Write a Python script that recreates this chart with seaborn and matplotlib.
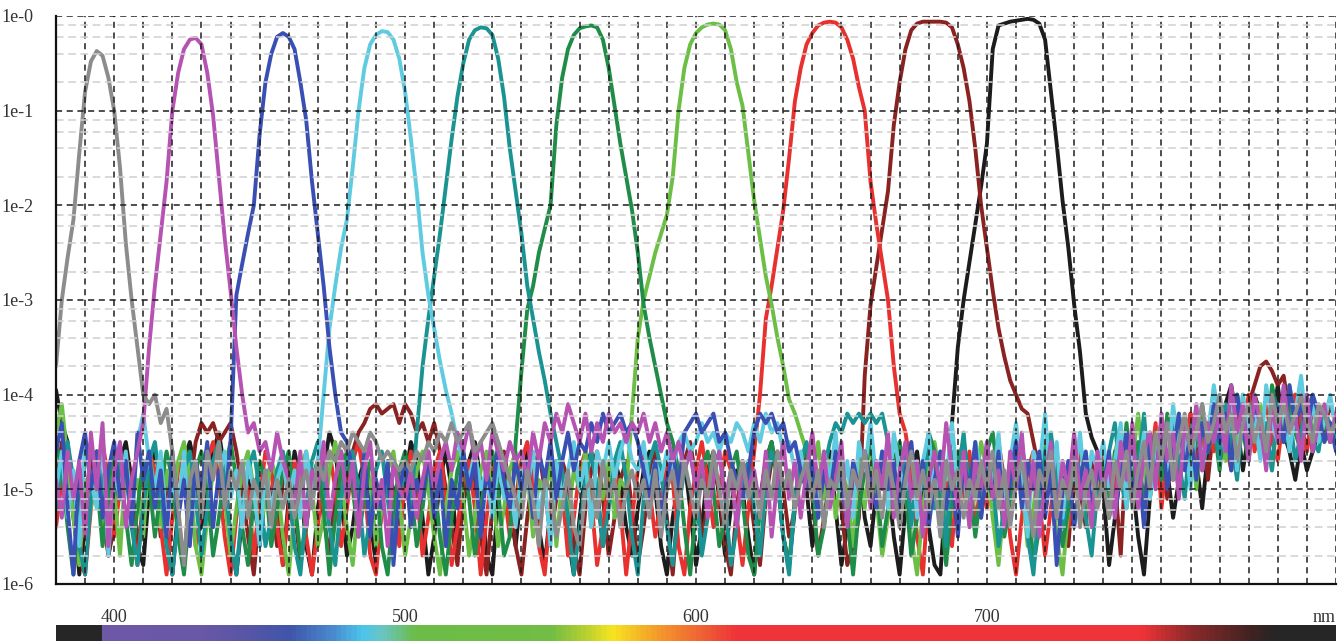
import numpy as np
import pandas as pd
import matplotlib.pyplot as plt
from matplotlib.colors import LinearSegmentedColormap
from matplotlib.ticker import NullLocator
import seaborn as sns

# longitudes de onda (nm), paso de 2 nm
longitud_onda = np.arange(380, 821, 2)

# transmision de cada filtro en log10 (380..820 nm)
gris = [
    -3.7, -3.0, -2.55, -2.15, -1.45, -0.8, -0.48, -0.37, -0.42, -0.65, -1.0, -1.6, -2.4, -3.0, -3.5, -4.0, -4.1, -4.0, -4.3, -4.15,
    -4.6, -5.2, -5.8, -4.9, -4.7, -5.3, -4.6, -4.9, -4.5, -5.2, -4.8, -5.0, -4.7, -5.3, -4.9, -5.1, -4.8, -5.4, -4.9, -5.2,
    -4.9, -5.3, -5.0, -4.8, -5.2, -4.7, -4.9, -4.6, -4.7, -4.5, -4.6, -4.4, -4.5, -4.6, -4.4, -4.5, -4.7, -4.6, -4.7, -4.8,
    -4.7, -4.8, -4.6, -4.7, -4.5, -4.6, -4.4, -4.5, -4.3, -4.5, -4.4, -4.3, -4.6, -4.5, -4.4, -4.3, -4.5, -4.7, -4.9, -5.1,
    -5.3, -4.8, -5.1, -5.6, -4.9, -5.0, -5.5, -5.2, -4.8, -5.4, -5.6, -5.0, -4.9, -5.3, -4.7, -5.1, -4.9, -5.4, -5.0, -4.8,
    -5.1, -4.9, -5.3, -4.8, -5.5, -5.0, -4.8, -5.2, -4.7, -5.0, -5.3, -4.9, -5.1, -4.6, -5.0, -5.4, -4.8, -5.0, -4.7, -5.1,
    -4.9, -5.3, -4.8, -5.1, -4.6, -5.0, -4.8, -5.2, -4.9, -4.7, -5.1, -4.8, -5.4, -4.9, -5.0, -4.7, -5.2, -4.8, -5.0, -4.6,
    -5.1, -4.8, -5.3, -4.7, -5.0, -5.4, -4.9, -4.6, -5.1, -4.8, -5.2, -4.9, -5.5, -4.7, -5.0, -4.8, -5.3, -4.9, -5.1, -4.7,
    -5.0, -4.6, -5.2, -4.8, -5.4, -4.9, -4.7, -5.1, -5.5, -4.8, -5.0, -4.6, -5.3, -4.9, -5.1, -4.7, -5.4, -5.0, -4.8, -5.2,
    -4.9, -5.3, -4.7, -5.0, -4.6, -5.2, -4.8, -4.5, -5.0, -4.4, -4.7, -4.3, -4.9, -4.5, -4.2, -4.6, -4.4, -4.1, -4.5, -4.3,
    -4.0, -4.4, -4.2, -4.7, -4.3, -4.1, -4.5, -4.2, -4.6, -4.0, -4.3, -4.1, -4.4, -4.2, -4.0, -4.3, -4.5, -4.1, -4.2, -4.4, -4.3,
]
magenta = [
    -4.9, -5.3, -4.6, -5.1, -4.7, -5.5, -4.4, -5.0, -4.3, -5.6, -4.8, -4.5, -5.4, -4.9, -4.6, -4.3, -3.5, -2.85, -2.3, -1.75,
    -1.0, -0.6, -0.35, -0.25, -0.23, -0.3, -0.6, -1.05, -1.7, -2.35, -2.9, -3.5, -4.0, -4.4, -4.3, -4.6, -4.5, -4.8, -4.4, -4.7,
    -4.9, -5.2, -4.6, -5.4, -4.8, -5.0, -4.5, -5.3, -4.9, -4.6, -5.1, -4.7, -5.5, -4.8, -4.5, -5.2, -4.9, -5.6, -4.7, -5.0,
    -5.1, -4.8, -5.3, -4.9, -4.6, -5.0, -4.7, -4.5, -4.8, -4.4, -4.6, -4.3, -4.7, -4.5, -4.9, -4.4, -4.6, -4.8, -4.5, -4.7,
    -4.6, -4.9, -4.4, -4.7, -4.3, -4.5, -4.2, -4.4, -4.1, -4.3, -4.5, -4.2, -4.6, -4.3, -4.5, -4.2, -4.4, -4.3, -4.5, -4.3,
    -4.4, -4.2, -4.5, -4.3, -4.6, -4.4, -4.7, -4.5, -4.8, -4.6, -5.0, -4.7, -5.3, -4.9, -4.6, -5.1, -4.8, -5.4, -4.7, -5.0,
    -4.8, -5.2, -4.6, -5.5, -4.9, -4.5, -5.1, -4.7, -5.3, -4.8, -4.4, -5.0, -4.6, -5.2, -4.9, -4.5, -5.4, -4.8, -5.0, -4.6,
    -5.2, -4.7, -5.0, -4.4, -5.3, -4.8, -4.5, -5.1, -4.7, -5.5, -4.9, -4.6, -5.0, -4.3, -4.8, -5.2, -4.6, -5.4, -4.7, -5.0,
    -4.5, -5.1, -4.8, -5.4, -4.6, -5.0, -4.4, -5.2, -4.7, -5.5, -4.9, -4.5, -5.3, -4.7, -5.0, -4.4, -5.1, -4.8, -5.4, -4.6,
    -5.0, -4.7, -5.3, -4.5, -4.9, -4.3, -5.2, -4.6, -4.4, -5.0, -4.2, -4.7, -4.4, -5.1, -4.3, -4.6, -4.1, -4.8, -4.3, -4.5,
    -4.2, -4.6, -3.9, -4.4, -4.1, -4.7, -4.0, -4.3, -4.8, -4.1, -4.5, -3.9, -4.4, -4.2, -4.7, -4.0, -4.6, -4.3, -4.1, -4.5, -4.2,
]
azul = [
    -4.6, -4.3, -5.2, -5.9, -4.7, -4.4, -5.0, -4.6, -5.3, -4.8, -4.5, -5.1, -4.7, -5.4, -4.4, -4.9, -4.6, -5.2, -4.8, -5.5,
    -4.6, -5.3, -4.9, -5.6, -4.7, -5.0, -4.5, -5.4, -4.8, -5.2, -4.5, -2.95, -2.62, -2.3, -2.0, -1.25, -0.7, -0.4, -0.22, -0.18,
    -0.22, -0.35, -0.7, -1.1, -1.75, -2.3, -2.85, -3.5, -4.0, -4.4, -4.5, -4.8, -5.3, -4.6, -5.5, -4.9, -5.2, -4.7, -5.8, -5.0,
    -4.7, -5.4, -4.9, -5.1, -4.6, -5.3, -4.8, -5.6, -4.9, -5.2, -4.6, -5.0, -4.7, -5.5, -4.8, -5.1, -4.5, -4.9, -5.2, -4.7,
    -5.0, -4.7, -5.3, -4.6, -4.9, -4.5, -5.1, -4.7, -4.4, -4.8, -4.5, -4.6, -4.3, -4.5, -4.2, -4.4, -4.3, -4.2, -4.4, -4.3,
    -4.5, -4.8, -5.1, -4.7, -5.3, -4.9, -4.6, -5.0, -4.4, -4.3, -4.2, -4.4, -4.3, -4.2, -4.5, -4.4, -4.7, -4.9, -5.1, -4.8,
    -4.4, -4.2, -4.3, -4.2, -4.4, -4.3, -4.6, -4.5, -4.8, -5.0, -4.7, -5.3, -4.8, -5.1, -4.6, -4.9, -5.4, -4.7, -5.0, -4.6,
    -4.9, -5.2, -4.6, -5.0, -4.7, -5.3, -4.8, -4.5, -5.1, -4.7, -5.4, -4.9, -4.6, -5.2, -4.8, -5.5, -4.7, -5.0, -4.5, -5.3,
    -4.8, -5.1, -4.6, -5.4, -4.9, -4.5, -5.2, -4.7, -5.0, -4.6, -5.3, -4.8, -5.8, -5.0, -4.7, -5.4, -4.9, -4.6, -5.2, -4.8,
    -5.0, -4.6, -5.3, -4.8, -4.4, -5.1, -4.7, -5.4, -4.5, -4.9, -4.3, -5.0, -4.6, -4.2, -4.8, -4.4, -4.9, -4.3, -4.6, -4.1,
    -4.5, -4.2, -4.8, -4.0, -4.4, -4.6, -4.1, -4.3, -4.7, -4.0, -4.2, -4.5, -3.9, -4.3, -4.1, -4.4, -4.0, -4.2, -4.5, -4.3, -4.6,
]
celeste = [
    -5.0, -4.6, -5.3, -4.8, -5.6, -4.5, -4.9, -5.2, -4.4, -5.7, -4.8, -5.1, -4.6, -5.3, -4.5, -4.2, -4.7, -5.0, -4.6, -5.4,
    -4.9, -5.2, -4.6, -5.5, -4.8, -5.0, -4.7, -5.3, -4.9, -4.6, -5.1, -4.8, -5.4, -4.7, -5.0, -5.6, -4.8, -5.2, -4.9, -4.7,
    -5.1, -4.8, -5.3, -4.6, -5.0, -4.7, -4.0, -3.3, -2.85, -2.45, -2.15, -1.6, -1.0, -0.55, -0.3, -0.2, -0.16, -0.17, -0.25, -0.45,
    -0.8, -1.3, -1.85, -2.5, -2.95, -3.3, -3.65, -3.95, -4.2, -4.5, -4.7, -4.9, -4.6, -5.0, -4.8, -5.3, -4.7, -5.1, -4.9, -5.4,
    -4.8, -5.0, -4.6, -5.3, -4.9, -5.6, -4.7, -5.1, -4.8, -4.5, -5.0, -4.7, -5.4, -4.6, -4.8, -4.5, -4.9, -4.6, -4.4, -4.7,
    -4.8, -4.5, -5.0, -4.7, -4.9, -4.6, -4.8, -4.5, -4.4, -4.6, -4.5, -4.3, -4.5, -4.4, -4.6, -4.4, -4.5, -4.3, -4.4, -4.6,
    -4.3, -4.5, -4.2, -4.4, -4.3, -4.6, -4.5, -4.8, -4.6, -5.0, -4.7, -5.2, -4.6, -4.9, -4.4, -5.1, -4.7, -5.3, -4.5, -4.8,
    -4.3, -4.9, -4.6, -5.2, -4.4, -4.8, -5.0, -4.5, -5.3, -4.7, -4.4, -5.1, -4.6, -4.9, -4.3, -5.0, -4.7, -5.4, -4.5, -4.8,
    -4.6, -5.0, -4.4, -5.2, -4.7, -4.3, -4.9, -5.5, -4.6, -4.8, -4.2, -5.0, -4.5, -5.3, -4.7, -4.9, -4.4, -5.1, -4.6, -4.8,
    -4.5, -5.0, -4.7, -4.3, -5.2, -4.6, -4.9, -4.4, -5.1, -4.7, -4.3, -4.8, -4.1, -4.6, -4.4, -5.0, -4.2, -4.7, -4.4, -3.9,
    -4.3, -4.6, -4.1, -4.8, -4.0, -4.4, -4.2, -4.7, -3.9, -4.3, -4.5, -4.1, -4.6, -4.2, -3.8, -4.4, -4.1, -4.5, -4.3, -4.0, -4.4,
]
turquesa = [
    -5.2, -4.7, -4.5, -4.9, -5.6, -5.9, -5.1, -4.7, -4.9, -5.5, -5.0, -4.6, -4.8, -5.4, -5.8, -5.2, -4.7, -4.5, -5.0, -5.6,
    -5.9, -5.3, -4.8, -4.6, -5.1, -5.7, -5.2, -4.7, -4.5, -4.9, -5.5, -5.9, -5.2, -4.8, -4.6, -5.0, -5.6, -5.3, -4.8, -4.6,
    -5.0, -5.6, -5.9, -5.2, -4.7, -4.5, -4.9, -5.4, -5.8, -5.1, -4.7, -4.6, -5.0, -5.7, -5.3, -4.8, -4.6, -5.1, -5.6, -5.0,
    -4.9, -5.2, -4.4, -3.7, -3.2, -2.75, -2.3, -1.8, -1.3, -0.85, -0.5, -0.25, -0.15, -0.12, -0.13, -0.2, -0.45, -0.85, -1.4, -1.85,
    -2.3, -2.85, -3.2, -3.55, -3.85, -4.2, -4.5, -4.8, -5.3, -5.9, -5.4, -4.9, -4.6, -5.0, -5.6, -5.2, -4.7, -4.5, -4.9, -5.5,
    -5.9, -5.1, -4.7, -4.5, -4.8, -5.4, -5.8, -5.2, -4.8, -4.6, -5.0, -5.7, -5.3, -4.8, -4.6, -5.1, -5.8, -5.4, -4.9, -4.7,
    -5.2, -5.7, -5.0, -4.6, -4.8, -5.5, -5.9, -5.1, -4.7, -4.5, -4.9, -5.3, -4.8, -4.5, -4.3, -4.4, -4.2, -4.3, -4.2, -4.3,
    -4.2, -4.3, -4.2, -4.5, -4.8, -5.1, -4.6, -5.4, -4.7, -5.0, -4.5, -5.2, -4.8, -5.6, -4.6, -4.9, -4.4, -5.1, -4.7, -5.3,
    -4.5, -4.9, -5.6, -5.2, -4.7, -4.4, -4.8, -5.5, -5.9, -5.1, -4.6, -4.4, -4.9, -5.4, -5.0, -4.6, -4.8, -5.3, -5.7, -5.0,
    -5.0, -4.6, -4.3, -4.9, -5.2, -4.5, -4.8, -4.2, -5.0, -4.6, -4.4, -4.9, -4.3, -4.7, -5.1, -4.4, -4.2, -4.8, -4.5, -4.3,
    -4.7, -4.1, -4.5, -4.9, -4.2, -4.4, -4.0, -4.6, -4.3, -4.8, -4.1, -4.5, -4.2, -4.7, -4.4, -4.0, -4.5, -4.6, -4.2, -4.3, -4.5,
]
verde_oscuro = [
    -4.5, -4.8, -5.4, -5.9, -5.2, -4.7, -4.5, -4.9, -5.6, -5.1, -4.6, -4.8, -5.3, -5.8, -5.2, -4.7, -4.9, -5.5, -5.0, -4.6,
    -4.9, -5.5, -5.9, -5.2, -4.8, -4.6, -5.0, -5.7, -5.3, -4.8, -4.5, -4.9, -5.4, -5.8, -5.1, -4.7, -4.9, -5.6, -5.2, -4.8,
    -4.6, -5.1, -5.7, -5.4, -4.9, -4.7, -5.2, -5.9, -5.3, -4.8, -4.6, -5.0, -5.5, -5.1, -4.7, -4.9, -5.6, -5.9, -5.2, -4.8,
    -4.6, -5.0, -5.6, -5.2, -4.7, -4.9, -5.5, -5.9, -5.3, -4.8, -4.6, -5.1, -5.7, -5.2, -4.8, -4.6, -5.0, -5.7, -5.5, -4.5,
    -3.75, -3.1, -2.85, -2.5, -2.25, -2.0, -1.15, -0.65, -0.35, -0.2, -0.13, -0.11, -0.1, -0.12, -0.25, -0.55, -0.95, -1.35, -1.7, -2.05,
    -2.5, -3.05, -3.4, -3.7, -4.0, -4.3, -4.5, -4.8, -5.4, -5.9, -5.2, -4.8, -4.6, -5.0, -5.6, -5.3, -4.8, -4.6, -5.1, -5.7,
    -5.9, -5.2, -4.7, -4.5, -4.9, -5.5, -5.8, -5.1, -4.7, -4.6, -5.0, -5.7, -5.4, -4.9, -4.6, -4.8, -5.3, -5.9, -5.2, -4.8,
    -4.5, -4.9, -5.6, -5.2, -4.7, -4.5, -5.0, -5.7, -5.3, -4.8, -4.4, -4.6, -5.2, -5.8, -5.1, -4.7, -4.5, -4.9, -5.5, -5.0,
    -4.6, -4.4, -4.9, -5.5, -5.1, -4.7, -4.5, -5.0, -5.8, -5.4, -4.8, -4.6, -5.1, -5.6, -5.2, -4.7, -4.5, -4.9, -5.3, -4.8,
    -4.7, -5.3, -4.6, -4.9, -4.3, -5.0, -4.5, -5.2, -4.7, -4.4, -4.9, -4.2, -4.6, -5.0, -4.3, -4.7, -4.5, -4.1, -4.6, -4.3,
    -4.8, -4.2, -4.5, -4.0, -4.4, -4.7, -4.1, -4.3, -4.6, -3.9, -4.2, -4.5, -4.1, -4.4, -4.6, -4.2, -4.0, -4.4, -4.3, -4.5, -4.3,
]
verde_claro = [
    -4.4, -4.1, -4.7, -5.3, -5.8, -4.9, -5.2, -4.6, -5.5, -4.8, -5.0, -5.7, -4.7, -5.1, -4.9, -5.5, -4.6, -5.0, -5.4, -4.8,
    -5.2, -4.7, -4.5, -4.9, -5.6, -5.9, -5.3, -4.8, -4.6, -5.1, -5.7, -5.2, -4.8, -4.6, -5.0, -5.5, -5.1, -4.7, -4.9, -5.5,
    -5.9, -5.2, -4.8, -4.6, -5.0, -5.6, -5.3, -4.8, -4.5, -4.9, -5.4, -5.8, -5.1, -4.7, -4.9, -5.6, -5.2, -4.8, -4.6, -5.1,
    -5.7, -5.3, -4.8, -4.6, -5.0, -5.5, -5.9, -5.2, -4.8, -4.6, -5.1, -5.7, -5.3, -4.8, -4.6, -5.0, -5.6, -5.2, -4.8, -4.6,
    -5.2, -4.8, -5.5, -4.9, -5.1, -4.7, -5.6, -4.9, -5.3, -4.8, -5.0, -4.6, -5.4, -4.9, -5.1, -4.7, -5.3, -4.9, -5.0, -4.2,
    -3.4, -3.0, -2.75, -2.5, -2.3, -2.1, -1.7, -1.0, -0.55, -0.3, -0.18, -0.12, -0.09, -0.08, -0.09, -0.15, -0.35, -0.7, -0.95, -1.45,
    -1.95, -2.35, -2.75, -3.05, -3.4, -3.7, -4.05, -4.2, -4.4, -4.6, -4.9, -4.5, -5.1, -4.7, -5.3, -4.8, -5.0, -5.6, -4.7, -5.2,
    -4.6, -5.1, -5.7, -5.3, -4.8, -4.5, -4.9, -5.5, -5.9, -5.2, -4.7, -4.5, -4.9, -5.4, -5.0, -4.6, -4.8, -5.4, -5.0, -4.5,
    -4.8, -5.3, -5.8, -5.1, -4.7, -4.5, -4.9, -5.6, -5.2, -4.7, -4.5, -4.9, -5.5, -5.9, -5.2, -4.7, -4.5, -5.0, -5.4, -4.9,
    -4.9, -5.2, -4.6, -4.4, -5.0, -4.7, -4.2, -4.8, -5.1, -4.5, -4.3, -4.9, -4.6, -4.2, -4.7, -4.4, -5.0, -4.3, -4.6, -4.1,
    -4.4, -4.7, -4.2, -4.5, -4.0, -4.6, -4.3, -4.1, -4.5, -4.8, -4.2, -4.4, -3.9, -4.3, -4.6, -4.1, -4.4, -4.2, -4.5, -4.3, -4.4,
]
rojo = [
    -5.4, -4.9, -4.6, -5.1, -5.7, -5.9, -5.2, -4.8, -4.5, -4.9, -5.5, -5.0, -4.7, -5.3, -5.8, -5.1, -4.6, -4.8, -5.4, -5.9,
    -5.3, -4.8, -4.6, -5.0, -5.6, -5.2, -4.7, -4.5, -4.9, -5.5, -5.9, -5.3, -4.8, -5.0, -5.7, -5.1, -4.6, -4.8, -5.4, -5.8,
    -5.2, -4.7, -4.9, -5.5, -5.9, -5.4, -4.8, -4.6, -5.0, -5.6, -5.2, -4.7, -4.5, -4.9, -5.7, -5.9, -5.2, -4.8, -5.1, -5.6,
    -4.9, -4.6, -5.0, -5.7, -5.3, -4.8, -4.6, -5.1, -5.8, -5.4, -4.9, -4.7, -5.2, -5.9, -5.3, -4.8, -4.6, -5.0, -5.5, -5.1,
    -4.7, -4.5, -4.9, -5.6, -5.9, -5.2, -4.8, -5.0, -5.7, -5.3, -4.8, -4.6, -5.1, -5.8, -5.4, -4.9, -4.7, -5.2, -5.9, -5.3,
    -4.8, -4.6, -5.0, -5.5, -5.1, -4.7, -4.9, -5.6, -5.9, -5.2, -4.8, -4.5, -4.9, -5.4, -5.0, -4.6, -4.8, -5.3, -5.8, -5.2,
    -4.6, -4.0, -3.2, -2.85, -2.45, -2.05, -1.5, -0.9, -0.55, -0.3, -0.18, -0.1, -0.07, -0.06, -0.07, -0.12, -0.25, -0.45, -0.75, -1.0,
    -1.75, -2.2, -2.6, -3.0, -3.7, -4.2, -4.4, -4.8, -5.5, -5.9, -5.0, -4.7, -5.3, -4.9, -5.6, -4.8, -5.1, -4.6, -5.4, -4.9,
    -5.2, -4.7, -4.5, -4.9, -5.5, -5.9, -5.3, -4.8, -4.6, -5.1, -5.7, -5.2, -4.7, -4.9, -5.4, -5.0, -4.6, -4.8, -5.3, -5.0,
    -4.6, -5.3, -4.9, -4.4, -5.1, -4.7, -5.0, -4.5, -4.8, -4.3, -5.2, -4.6, -4.9, -4.4, -4.7, -4.2, -4.8, -4.5, -4.3, -4.6,
    -4.2, -4.5, -4.8, -4.1, -4.4, -4.0, -4.6, -4.3, -4.1, -4.5, -4.7, -4.2, -4.4, -4.0, -4.3, -4.6, -4.1, -4.4, -4.2, -4.5, -4.3,
]
granate = [
    -5.0, -4.5, -4.7, -5.3, -5.8, -5.1, -4.7, -4.6, -5.2, -5.7, -5.4, -4.9, -4.6, -5.0, -5.6, -5.2, -4.7, -4.9, -5.5, -5.0,
    -4.8, -5.3, -5.8, -5.0, -4.5, -4.3, -4.4, -4.3, -4.5, -4.4, -4.3, -4.6, -5.0, -5.5, -5.9, -5.2, -4.8, -5.1, -5.6, -4.9,
    -4.7, -5.2, -5.8, -5.4, -4.9, -4.7, -5.3, -5.7, -5.0, -4.6, -4.9, -4.6, -4.4, -4.3, -4.15, -4.1, -4.2, -4.15, -4.1, -4.3,
    -4.1, -4.2, -4.4, -4.3, -4.5, -4.3, -4.6, -5.0, -5.4, -5.8, -5.1, -4.7, -4.9, -5.5, -5.9, -5.2, -4.8, -4.6, -5.0, -5.6,
    -5.9, -5.3, -4.8, -4.6, -5.0, -5.5, -5.1, -4.7, -4.9, -5.6, -5.9, -5.2, -4.8, -4.6, -5.1, -5.7, -5.3, -4.9, -4.7, -5.2,
    -5.8, -5.4, -4.9, -4.6, -4.8, -5.3, -5.9, -5.1, -4.7, -4.5, -4.9, -5.5, -5.2, -4.8, -5.0, -5.6, -5.9, -5.2, -4.7, -4.9,
    -5.4, -5.8, -5.1, -4.7, -4.6, -5.0, -5.5, -5.2, -4.8, -4.6, -5.1, -5.7, -5.3, -4.9, -4.7, -5.2, -5.8, -5.6, -5.3, -3.8,
    -3.05, -2.65, -2.25, -1.85, -1.15, -0.7, -0.35, -0.15, -0.08, -0.06, -0.06, -0.06, -0.06, -0.07, -0.12, -0.3, -0.55, -0.9, -1.4, -2.0,
    -2.45, -2.9, -3.3, -3.6, -3.85, -4.0, -4.15, -4.2, -4.5, -4.8, -5.1, -4.7, -5.3, -4.9, -5.6, -4.8, -5.0, -5.4, -4.7, -5.1,
    -4.6, -5.2, -4.9, -5.7, -4.5, -5.0, -4.7, -5.3, -4.4, -4.9, -4.6, -5.1, -4.3, -4.8, -4.5, -4.2, -4.7, -4.4, -4.9, -4.3,
    -4.1, -4.5, -4.2, -4.0, -4.4, -4.1, -3.9, -3.7, -3.65, -3.75, -3.9, -3.8, -4.2, -4.0, -4.5, -4.3, -4.6, -4.2, -4.4, -4.1, -4.3,
]
negro = [
    -3.95, -4.3, -4.5, -5.2, -5.9, -5.4, -4.8, -4.6, -5.0, -5.7, -5.3, -4.7, -4.5, -4.9, -5.6, -5.8, -5.0, -4.6, -4.9, -5.5,
    -5.9, -5.2, -4.7, -4.5, -4.8, -5.4, -5.0, -4.6, -4.4, -4.8, -5.5, -5.9, -5.3, -4.9, -5.1, -5.6, -5.0, -4.7, -5.2, -5.8,
    -5.1, -4.6, -4.9, -5.6, -5.9, -5.2, -4.8, -4.4, -4.6, -5.1, -5.7, -5.4, -4.9, -4.7, -5.3, -5.8, -5.2, -4.8, -5.0, -5.5,
    -4.9, -4.5, -4.7, -5.3, -5.9, -5.5, -4.9, -4.6, -5.0, -5.6, -5.2, -4.7, -4.5, -4.9, -5.7, -5.9, -5.1, -4.8, -5.2, -5.6,
    -5.0, -4.6, -4.8, -5.4, -5.8, -5.2, -4.7, -4.9, -5.5, -5.9, -5.3, -4.8, -4.6, -5.0, -5.6, -5.1, -4.7, -4.9, -5.4, -5.7,
    -5.2, -4.8, -4.6, -5.0, -5.6, -5.9, -5.3, -4.9, -4.7, -5.2, -5.8, -5.4, -4.8, -4.6, -5.1, -5.7, -5.2, -4.8, -5.0, -5.5,
    -5.9, -5.1, -4.7, -4.5, -4.9, -5.5, -5.8, -5.2, -4.8, -5.0, -5.6, -5.1, -4.7, -4.6, -5.2, -5.8, -5.4, -4.9, -4.7, -5.3,
    -5.6, -5.0, -4.7, -4.9, -5.5, -5.9, -5.2, -4.8, -4.6, -5.1, -5.4, -5.8, -5.9, -5.0, -4.3, -3.5, -3.0, -2.6, -2.2, -1.8,
    -1.35, -0.35, -0.1, -0.08, -0.06, -0.05, -0.04, -0.03, -0.04, -0.08, -0.25, -0.8, -1.35, -1.95, -2.45, -3.05, -3.55, -4.2, -4.45, -4.6,
    -5.0, -5.8, -5.3, -4.8, -4.5, -4.9, -5.5, -5.9, -5.1, -4.6, -4.4, -4.8, -5.3, -4.9, -4.5, -4.3, -4.7, -5.2, -4.6, -4.2,
    -4.6, -4.1, -3.9, -4.3, -4.8, -4.4, -4.0, -4.2, -4.7, -4.3, -3.9, -4.4, -4.6, -4.9, -4.5, -4.8, -4.6, -4.4, -4.3, -4.5, -4.4,
]

filtros = ['gris', 'magenta', 'azul', 'celeste', 'turquesa',
           'verde oscuro', 'verde claro', 'rojo', 'granate', 'negro']
curvas = [gris, magenta, azul, celeste, turquesa,
          verde_oscuro, verde_claro, rojo, granate, negro]
colores = ['#8c8c8c', '#b552b2', '#3a4fb3', '#5fcbe0', '#1a9393',
           '#1f8c47', '#6bbf44', '#e8302f', '#8a2222', '#1c1c1c']

# etiquetas de los ejes
y_ticks = [1e0, 1e-1, 1e-2, 1e-3, 1e-4, 1e-5, 1e-6]
y_etiquetas = ['1e-0', '1e-1', '1e-2', '1e-3', '1e-4', '1e-5', '1e-6']
x_ticks = [400, 500, 600, 700, 816]
x_etiquetas = ['400', '500', '600', '700', 'nm']

# barra de espectro visible (nm, color)
espectro_nm = [380, 394.5, 395.5, 430, 444, 460, 475, 485, 492, 503, 550, 562, 571, 587, 604, 614, 754, 771, 792, 800, 820]
espectro_color = ['#262626', '#262626', '#6e58a8', '#6858a6', '#5a55a5', '#3f56aa', '#4a8cd0', '#4cc6ec', '#6cc4c0',
                  '#6bbd48', '#72bd45', '#b8d030', '#f6e520', '#f49a2c', '#ee5a35', '#ee3438', '#ee3438', '#8b2a2a',
                  '#402222', '#262626', '#262626']

for c in curvas:
    assert len(c) == len(longitud_onda), len(c)

df = pd.DataFrame({
    'nm': np.tile(longitud_onda, len(curvas)),
    'filtro': np.repeat(filtros, len(longitud_onda)),
    'T': 10.0 ** np.concatenate(curvas),
})

sns.set_style('white')
plt.rcParams['font.family'] = ['Liberation Serif', 'DejaVu Serif']

fig = plt.figure(figsize=(13.43, 6.41), dpi=100)
ax = fig.add_axes([56 / 1343, 1 - 584 / 641, 1280 / 1343, 568 / 641])

# los oscuros abajo, los claros encima
orden = filtros[::-1]
paleta = dict(zip(filtros, colores))
sns.lineplot(data=df, x='nm', y='T', hue='filtro', hue_order=orden, palette=paleta,
             lw=2.8, legend=False, estimator=None, sort=False, ax=ax, zorder=2)

ax.set_yscale('log')
ax.set_xlim(380, 820)
ax.set_ylim(1e-6, 1)

# rejilla
for x in range(390, 821, 10):
    ax.axvline(x, color='#1e1e1e', lw=1.1, ls=(0, (4, 3)), zorder=3)
for k in range(-6, 0):
    for m in [2, 4, 6, 8]:
        ax.axhline(m * 10.0 ** k, color='#cfcfcf', lw=1.1, ls=(0, (5, 3)), zorder=3)
for k in range(-5, 1):
    ax.axhline(10.0 ** k, color='#1e1e1e', lw=1.1, ls=(0, (4, 3)), zorder=3)

for lado in ['top', 'right']:
    ax.spines[lado].set_visible(False)
for lado in ['left', 'bottom']:
    ax.spines[lado].set_color('#111111')
    ax.spines[lado].set_linewidth(1.6)
    ax.spines[lado].set_zorder(4)

ax.set_yticks(y_ticks)
ax.set_yticklabels(y_etiquetas)
ax.yaxis.set_minor_locator(NullLocator())
ax.set_xticks(x_ticks)
ax.set_xticklabels(x_etiquetas)
ax.tick_params(axis='y', length=0, pad=16, labelsize=13, labelcolor='#333333')
ax.tick_params(axis='x', length=0, pad=18, labelsize=13, labelcolor='#333333')
ax.set_xlabel('')
ax.set_ylabel('')

# barra de colores del espectro
cmap = LinearSegmentedColormap.from_list(
    'espectro', [((n - 380) / 440, c) for n, c in zip(espectro_nm, espectro_color)])
ax_barra = fig.add_axes([56 / 1343, 0, 1280 / 1343, 16 / 641])
ax_barra.imshow(np.linspace(0, 1, 1200)[np.newaxis, :], aspect='auto', cmap=cmap,
                extent=[380, 820, 0, 1])
ax_barra.axis('off')

fig.savefig('out.png', dpi=100)
